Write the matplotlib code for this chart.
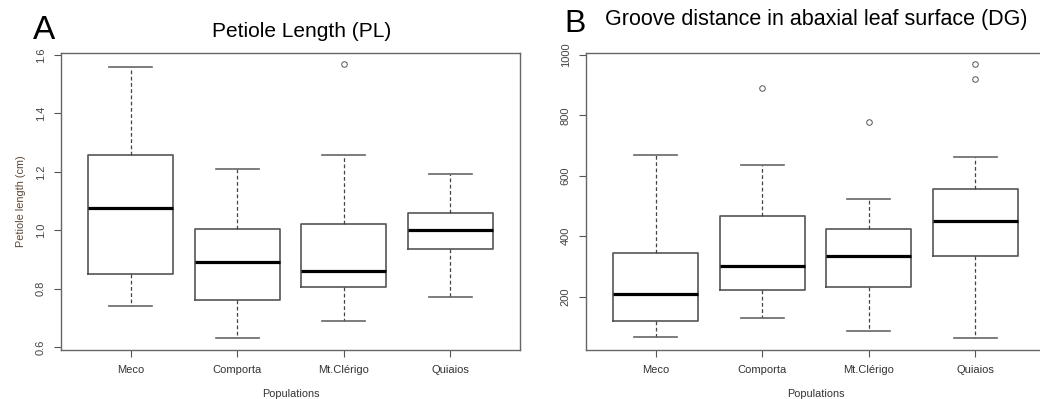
import matplotlib
matplotlib.use("Agg")
import matplotlib.pyplot as plt

plt.rcParams['font.family'] = ['Liberation Sans', 'DejaVu Sans']

populations = ["Meco", "Comporta", "Mt.Clérigo", "Quiaios"]

# Petiole length (cm): lower whisker, Q1, median, Q3, upper whisker
pl_low = [0.74, 0.632, 0.691, 0.770]
pl_q1 = [0.851, 0.762, 0.806, 0.937]
pl_med = [1.076, 0.892, 0.860, 1.000]
pl_q3 = [1.257, 1.004, 1.021, 1.059]
pl_high = [1.559, 1.210, 1.259, 1.191]
pl_out = [[], [], [1.568], []]

# Groove distance in abaxial leaf surface
dg_low = [66, 130, 86, 64]
dg_q1 = [120, 222, 231, 336]
dg_med = [208, 301, 336, 451]
dg_q3 = [344, 467, 425, 556]
dg_high = [669, 635, 524, 663]
dg_out = [[], [890], [778], [970, 920]]


def make_stats(low, q1, med, q3, high, out):
    stats = []
    for i in range(len(populations)):
        stats.append({"whislo": low[i], "q1": q1[i], "med": med[i],
                      "q3": q3[i], "whishi": high[i], "fliers": out[i]})
    return stats


def draw(ax, stats, ylim, yticks, yticklabels):
    ax.bxp(stats, positions=range(1, 5), widths=0.8, showcaps=True,
           boxprops=dict(color="#555555", linewidth=1.2),
           medianprops=dict(color="black", linewidth=2.3),
           whiskerprops=dict(color="#444444", linewidth=0.9, linestyle=(0, (3, 2))),
           capprops=dict(color="#666666", linewidth=1.2),
           flierprops=dict(marker="o", markersize=4, markerfacecolor="none",
                           markeredgecolor="#555555", markeredgewidth=0.7))
    ax.set_xlim(0.345, 4.655)
    ax.set_ylim(*ylim)
    ax.set_xticks(range(1, 5))
    ax.set_xticklabels(populations, fontsize=8, color="#333333")
    ax.set_yticks(yticks)
    ax.set_yticklabels(yticklabels, fontsize=8, color="#444444", rotation=90, va="center")
    ax.tick_params(direction="out", length=5, width=0.8, color="#555555", pad=6)
    for s in ax.spines.values():
        s.set_color("#666666")
        s.set_linewidth(1.0)
    ax.set_xlabel("Populations", fontsize=7.8, color="#333333", labelpad=10)


fig = plt.figure(figsize=(10.4, 3.99), dpi=100)

axA = fig.add_axes([0.0587, 0.1228, 0.4413, 0.7444])
draw(axA, make_stats(pl_low, pl_q1, pl_med, pl_q3, pl_high, pl_out),
     (0.59, 1.607), [0.6, 0.8, 1.0, 1.2, 1.4, 1.6],
     ["0.6", "0.8", "1.0", "1.2", "1.4", "1.6"])
axA.set_ylabel("Petiole length (cm)", fontsize=7.8, color="#5a4636", labelpad=7)

axB = fig.add_axes([0.5635, 0.1228, 0.4413, 0.7444])
draw(axB, make_stats(dg_low, dg_q1, dg_med, dg_q3, dg_high, dg_out),
     (23.6, 1006), [200, 400, 600, 800, 1000],
     ["200", "400", "600", "800", "1000"])

fig.text(0.032, 0.902, "A", fontsize=24, va="baseline")
fig.text(0.29, 0.907, "Petiole Length (PL)", fontsize=15, ha="center", va="baseline")
fig.text(0.543, 0.92, "B", fontsize=23, va="baseline")
fig.text(0.582, 0.937, "Groove distance in abaxial leaf surface (DG)", fontsize=15.5,
         va="baseline")

fig.savefig("out.png", dpi=100)
